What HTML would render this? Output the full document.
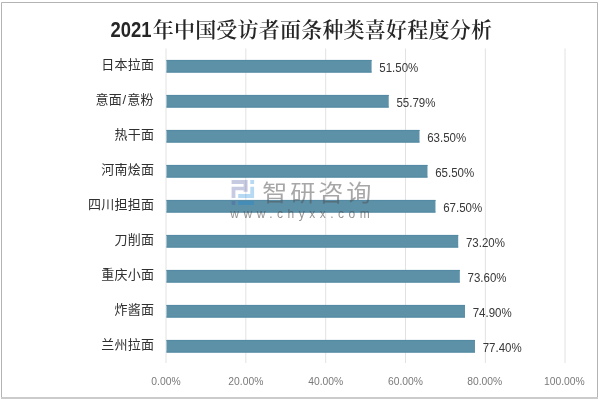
<!DOCTYPE html>
<html lang="zh-CN">
<head>
<meta charset="utf-8">
<title>2021年中国受访者面条种类喜好程度分析</title>
<style>
html,body{margin:0;padding:0;background:#fff;}
body{width:600px;height:400px;overflow:hidden;}
svg{display:block;will-change:transform;}
.cat{font-family:"Liberation Sans","Noto Sans CJK SC",sans-serif;font-size:13px;letter-spacing:.25px;fill:#303030;text-anchor:end;}
.val{font-family:"Liberation Sans","Noto Sans CJK SC",sans-serif;font-size:12.5px;fill:#383838;}
.ax{font-family:"Liberation Sans","Noto Sans CJK SC",sans-serif;font-size:11.5px;fill:#7a7a7a;text-anchor:middle;}
.tnum{font-family:"Liberation Sans","Noto Sans CJK SC",sans-serif;font-weight:bold;font-size:21.4px;fill:#262626;}
.tcn{font-family:"Liberation Serif","Noto Serif CJK SC",serif;font-weight:600;font-size:21px;fill:#262626;}
.wm1{font-family:"Liberation Sans","Noto Sans CJK SC",sans-serif;font-size:22.5px;letter-spacing:2.5px;fill:#505050;fill-opacity:.5;}
.wm2{font-family:"Liberation Sans","Noto Sans CJK SC",sans-serif;font-size:12px;fill:#505050;fill-opacity:.62;}
</style>
</head>
<body>
<svg width="600" height="400" viewBox="0 0 600 400">
<rect x="0" y="0" width="600" height="400" fill="#ffffff"/>
<g fill="none" stroke="#b4b4b4" stroke-width="1">
<path d="M1.5 398.5V2.5H597.5V398.5"/>
</g>
<rect x="1" y="397" width="597" height="2" fill="#cbcbcb"/>

<g stroke="#e2e2e2" stroke-width="1">
<line x1="166.00" y1="48.5" x2="166.00" y2="363.0"/>
<line x1="245.84" y1="48.5" x2="245.84" y2="363.0"/>
<line x1="325.68" y1="48.5" x2="325.68" y2="363.0"/>
<line x1="405.52" y1="48.5" x2="405.52" y2="363.0"/>
<line x1="485.36" y1="48.5" x2="485.36" y2="363.0"/>
<line x1="565.00" y1="48.5" x2="565.00" y2="363.0"/>
</g>
<g fill="#5d91a8">
<rect x="166.50" y="59.95" width="205.09" height="12.6"/>
<rect x="166.50" y="94.95" width="222.21" height="12.6"/>
<rect x="166.50" y="129.95" width="252.99" height="12.6"/>
<rect x="166.50" y="164.95" width="260.98" height="12.6"/>
<rect x="166.50" y="199.95" width="268.96" height="12.6"/>
<rect x="166.50" y="234.95" width="291.71" height="12.6"/>
<rect x="166.50" y="269.95" width="293.31" height="12.6"/>
<rect x="166.50" y="304.95" width="298.50" height="12.6"/>
<rect x="166.50" y="339.95" width="308.48" height="12.6"/>
</g>
<g fill="#548aa3"><rect x="166.50" y="59.95" width="205.09" height="1.1"/><rect x="166.50" y="71.45" width="205.09" height="1.1"/><rect x="166.50" y="94.95" width="222.21" height="1.1"/><rect x="166.50" y="106.45" width="222.21" height="1.1"/><rect x="166.50" y="129.95" width="252.99" height="1.1"/><rect x="166.50" y="141.45" width="252.99" height="1.1"/><rect x="166.50" y="164.95" width="260.98" height="1.1"/><rect x="166.50" y="176.45" width="260.98" height="1.1"/><rect x="166.50" y="199.95" width="268.96" height="1.1"/><rect x="166.50" y="211.45" width="268.96" height="1.1"/><rect x="166.50" y="234.95" width="291.71" height="1.1"/><rect x="166.50" y="246.45" width="291.71" height="1.1"/><rect x="166.50" y="269.95" width="293.31" height="1.1"/><rect x="166.50" y="281.45" width="293.31" height="1.1"/><rect x="166.50" y="304.95" width="298.50" height="1.1"/><rect x="166.50" y="316.45" width="298.50" height="1.1"/><rect x="166.50" y="339.95" width="308.48" height="1.1"/><rect x="166.50" y="351.45" width="308.48" height="1.1"/></g>
<g id="labels">
<text class="cat" x="154.2" y="68.95">日本拉面</text>
<text class="cat" x="153.7" y="103.95">意面<tspan dx="0.7">/</tspan><tspan dx="0.7">意粉</tspan></text>
<text class="cat" x="154.2" y="138.95">热干面</text>
<text class="cat" x="154.2" y="173.95">河南烩面</text>
<text class="cat" x="154.2" y="208.95">四川担担面</text>
<text class="cat" x="154.2" y="243.95">刀削面</text>
<text class="cat" x="154.2" y="278.95">重庆小面</text>
<text class="cat" x="154.2" y="313.95">炸酱面</text>
<text class="cat" x="154.2" y="348.95">兰州拉面</text>
<text class="val" x="379.29" y="71.85" textLength="39" lengthAdjust="spacingAndGlyphs">51.50%</text>
<text class="val" x="396.41" y="106.85" textLength="39" lengthAdjust="spacingAndGlyphs">55.79%</text>
<text class="val" x="427.19" y="141.85" textLength="39" lengthAdjust="spacingAndGlyphs">63.50%</text>
<text class="val" x="435.18" y="176.85" textLength="39" lengthAdjust="spacingAndGlyphs">65.50%</text>
<text class="val" x="443.16" y="211.85" textLength="39" lengthAdjust="spacingAndGlyphs">67.50%</text>
<text class="val" x="465.91" y="246.85" textLength="39" lengthAdjust="spacingAndGlyphs">73.20%</text>
<text class="val" x="467.51" y="281.85" textLength="39" lengthAdjust="spacingAndGlyphs">73.60%</text>
<text class="val" x="472.70" y="316.85" textLength="39" lengthAdjust="spacingAndGlyphs">74.90%</text>
<text class="val" x="482.68" y="351.85" textLength="39" lengthAdjust="spacingAndGlyphs">77.40%</text>
<text class="ax" x="166.00" y="385.3" textLength="29.3" lengthAdjust="spacingAndGlyphs">0.00%</text>
<text class="ax" x="245.84" y="385.3" textLength="35.0" lengthAdjust="spacingAndGlyphs">20.00%</text>
<text class="ax" x="325.68" y="385.3" textLength="35.0" lengthAdjust="spacingAndGlyphs">40.00%</text>
<text class="ax" x="405.52" y="385.3" textLength="35.0" lengthAdjust="spacingAndGlyphs">60.00%</text>
<text class="ax" x="484.76" y="385.3" textLength="35.0" lengthAdjust="spacingAndGlyphs">80.00%</text>
<text class="ax" x="564.40" y="385.3" textLength="40.8" lengthAdjust="spacingAndGlyphs">100.00%</text>
<text class="tnum" x="110.5" y="36.7" textLength="41" lengthAdjust="spacingAndGlyphs">2021</text>
<text class="tcn" x="152.7" y="36.9" textLength="339.2" lengthAdjust="spacing">年中国受访者面条种类喜好程度分析</text>
</g>
<g>
<g fill="#41539e" fill-opacity=".3">
<path d="M231.6 180H247.6V191.7H243.6V190.3H235.4V198H231.6V186.7H243.6V184H231.6Z"/>
<rect x="231.6" y="201" width="3.8" height="4"/>
</g>
<g fill="#0e86d6" fill-opacity=".3">
<rect x="250.3" y="180" width="3.8" height="4"/>
<path d="M250.3 186.7H254.1V198H238.2V194H250.3Z"/>
<rect x="238.2" y="201" width="15.9" height="4"/>
</g>
<text class="wm1" transform="translate(262.3,201.3) scale(1.12,1)">智研咨询</text>
<text class="wm2" x="230.3" y="217.8" textLength="139.5" lengthAdjust="spacing">www.chyxx.com</text>
</g>

</svg>
</body>
</html>
